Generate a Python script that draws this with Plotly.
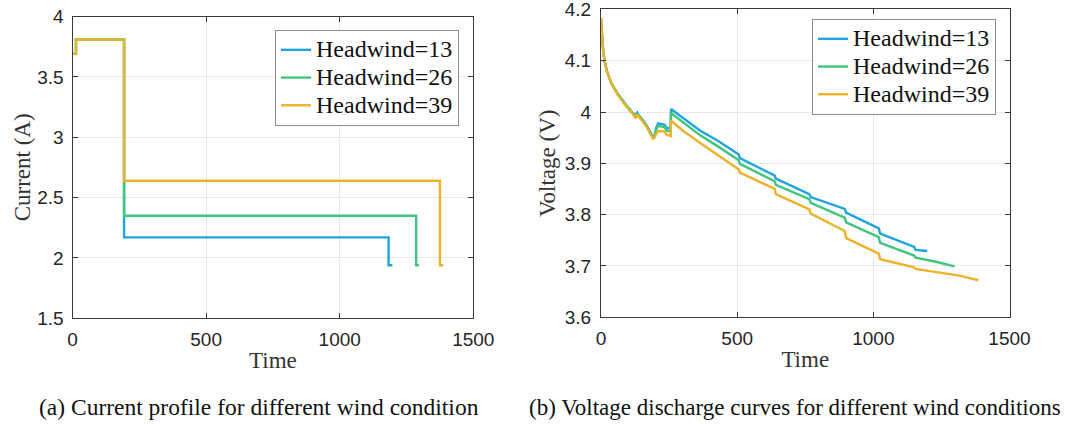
import plotly.graph_objects as go

# ---------------- data ----------------
series_names = ["Headwind=13", "Headwind=26", "Headwind=39"]
colors = ["#1EA4DE", "#40C47E", "#ECB32A"]

# (a) current profile
time_current_13 = [0, 13, 13, 193, 193, 1183, 1183, 1197]
current_13 = [3.69, 3.69, 3.81, 3.81, 2.17, 2.17, 1.94, 1.94]
time_current_26 = [0, 13, 13, 193, 193, 1286, 1286, 1297]
current_26 = [3.69, 3.69, 3.81, 3.81, 2.35, 2.35, 1.94, 1.94]
time_current_39 = [0, 13, 13, 193, 193, 1375, 1375, 1388]
current_39 = [3.69, 3.69, 3.81, 3.81, 2.64, 2.64, 1.94, 1.94]

# (b) voltage discharge curves
time_voltage_13 = [0, 2, 5, 9, 13, 22, 38, 62, 87, 117, 124, 127, 133, 139, 150, 166, 184, 191,
                   197, 203, 210, 222, 234, 240, 252, 256, 257, 300, 363, 429, 506, 510,
                   638, 642, 765, 770, 895, 900, 1020, 1025, 1150, 1155, 1198]
voltage_13 = [4.182, 4.160, 4.140, 4.115, 4.100, 4.079, 4.056, 4.035, 4.017, 3.998, 3.994, 3.994,
              3.999, 3.993, 3.987, 3.975, 3.958, 3.951, 3.955, 3.970, 3.978, 3.977, 3.975,
              3.969, 3.968, 3.968, 4.006, 3.989, 3.964, 3.944, 3.917, 3.910,
              3.876, 3.870, 3.840, 3.834, 3.811, 3.804, 3.773, 3.763, 3.737, 3.731, 3.729]

time_voltage_26 = [0, 2, 5, 9, 13, 22, 38, 62, 87, 117, 124, 127, 133, 139, 150, 166, 184, 191,
                   197, 203, 210, 222, 234, 240, 252, 256, 257, 300, 363, 429, 506, 510,
                   638, 642, 765, 770, 895, 900, 1020, 1025, 1150, 1155, 1230, 1298]
voltage_26 = [4.182, 4.160, 4.140, 4.115, 4.100, 4.079, 4.056, 4.035, 4.016, 3.997, 3.993, 3.992,
              3.998, 3.992, 3.986, 3.974, 3.957, 3.950, 3.953, 3.966, 3.973, 3.972, 3.970,
              3.964, 3.962, 3.962, 3.998, 3.980, 3.955, 3.933, 3.906, 3.899,
              3.865, 3.858, 3.830, 3.823, 3.794, 3.785, 3.756, 3.745, 3.720, 3.716, 3.708, 3.699]

time_voltage_39 = [0, 2, 5, 9, 13, 22, 38, 62, 87, 117, 124, 127, 133, 139, 150, 166, 184, 191,
                   197, 203, 212, 234, 240, 252, 256, 257, 300, 363, 429, 506, 510,
                   638, 642, 765, 770, 895, 900, 1020, 1025, 1150, 1155, 1250, 1316, 1386]
voltage_39 = [4.182, 4.160, 4.140, 4.115, 4.100, 4.079, 4.055, 4.033, 4.015, 3.996, 3.990, 3.988,
              3.995, 3.990, 3.984, 3.972, 3.955, 3.948, 3.950, 3.958, 3.963, 3.962, 3.956,
              3.953, 3.953, 3.983, 3.964, 3.940, 3.916, 3.888, 3.882,
              3.850, 3.840, 3.810, 3.802, 3.768, 3.754, 3.724, 3.713, 3.697, 3.694, 3.687, 3.681, 3.672]

x_ticks = [0, 500, 1000, 1500]
current_ticks = [1.5, 2, 2.5, 3, 3.5, 4]
voltage_ticks = [3.6, 3.7, 3.8, 3.9, 4.0, 4.1, 4.2]
voltage_tick_text = ["3.6", "3.7", "3.8", "3.9", "4", "4.1", "4.2"]

caption_a = "(a) Current profile for different wind condition"
caption_b = "(b) Voltage discharge curves for different wind conditions"

# ---------------- figure ----------------
fig = go.Figure()

current_sets = [(time_current_13, current_13), (time_current_26, current_26), (time_current_39, current_39)]
voltage_sets = [(time_voltage_13, voltage_13), (time_voltage_26, voltage_26), (time_voltage_39, voltage_39)]

serif = "Liberation Serif"
sans = "Liberation Sans"
axcol = "#3a3a3a"


def legend_label(name):
    return "<span style='font-size:24px'>%s</span>" % name


for name, col, (t, c) in zip(series_names, colors, current_sets):
    fig.add_trace(go.Scatter(x=t, y=c, mode="lines", line=dict(color=col, width=2.4),
                             name=legend_label(name),
                             xaxis="x", yaxis="y", legend="legend"))
for name, col, (t, v) in zip(series_names, colors, voltage_sets):
    fig.add_trace(go.Scatter(x=t, y=v, mode="lines", line=dict(color=col, width=2.4),
                             name=legend_label(name),
                             xaxis="x2", yaxis="y2", legend="legend2"))

W, H = 1067, 425


def ax(domain, rng, ticks, anchor, title, standoff, lblstand, ticktext=None):
    d = dict(domain=domain, range=rng, tickmode="array", tickvals=ticks, anchor=anchor,
             showline=True, linecolor=axcol, linewidth=1, mirror="ticks",
             ticks="inside", ticklen=5, tickcolor=axcol, tickwidth=1,
             showgrid=True, gridcolor="#e9e9e9", gridwidth=1, zeroline=False,
             tickfont=dict(family=sans, size=19, color="#262626"),
             ticklabelstandoff=lblstand, ticklabeloverflow="allow",
             title=dict(text=title, font=dict(family=serif, size=23, color="#333333"), standoff=standoff),
             automargin=False)
    if ticktext is not None:
        d["ticktext"] = ticktext
    return d


# plot-area pixel boxes
aL, aR, aT, aB = 72.5, 473.3, 16.5, 318.3
bL, bR, bT, bB = 601.0, 1009.5, 9.4, 317.2

legend_font = dict(family=serif, size=19, color="#111111")

fig.update_layout(
    width=W, height=H, margin=dict(l=0, r=0, t=0, b=0),
    font=dict(family=serif, size=19, color="#111111"),
    paper_bgcolor="white", plot_bgcolor="white",
    xaxis=ax([aL / W, aR / W], [0, 1500], x_ticks, "y", "Time", 2, 4),
    yaxis=ax([1 - aB / H, 1 - aT / H], [1.5, 4], current_ticks, "x", "Current (A)", 0, 4),
    xaxis2=ax([bL / W, bR / W], [0, 1500], x_ticks, "y2", "Time", 2, 4),
    yaxis2=ax([1 - bB / H, 1 - bT / H], [3.5999, 4.2001], voltage_ticks, "x2", "Voltage (V)", 2, 5,
              voltage_tick_text),
    legend=dict(x=275 / W, y=1 - 30 / H, xanchor="left", yanchor="top",
                bgcolor="white", bordercolor="#8c8c8c", borderwidth=1, font=legend_font),
    legend2=dict(x=812 / W, y=1 - 19 / H, xanchor="left", yanchor="top",
                 bgcolor="white", bordercolor="#8c8c8c", borderwidth=1, font=legend_font),
    annotations=[
        dict(text=caption_a, x=259 / W, y=1 - 407 / H, xref="paper", yref="paper",
             xanchor="center", yanchor="middle", showarrow=False,
             font=dict(family=serif, size=23.5, color="#111111")),
        dict(text=caption_b, x=795 / W, y=1 - 407 / H, xref="paper", yref="paper",
             xanchor="center", yanchor="middle", showarrow=False,
             font=dict(family=serif, size=23, color="#111111")),
    ],
)

fig.write_html("out.html")
